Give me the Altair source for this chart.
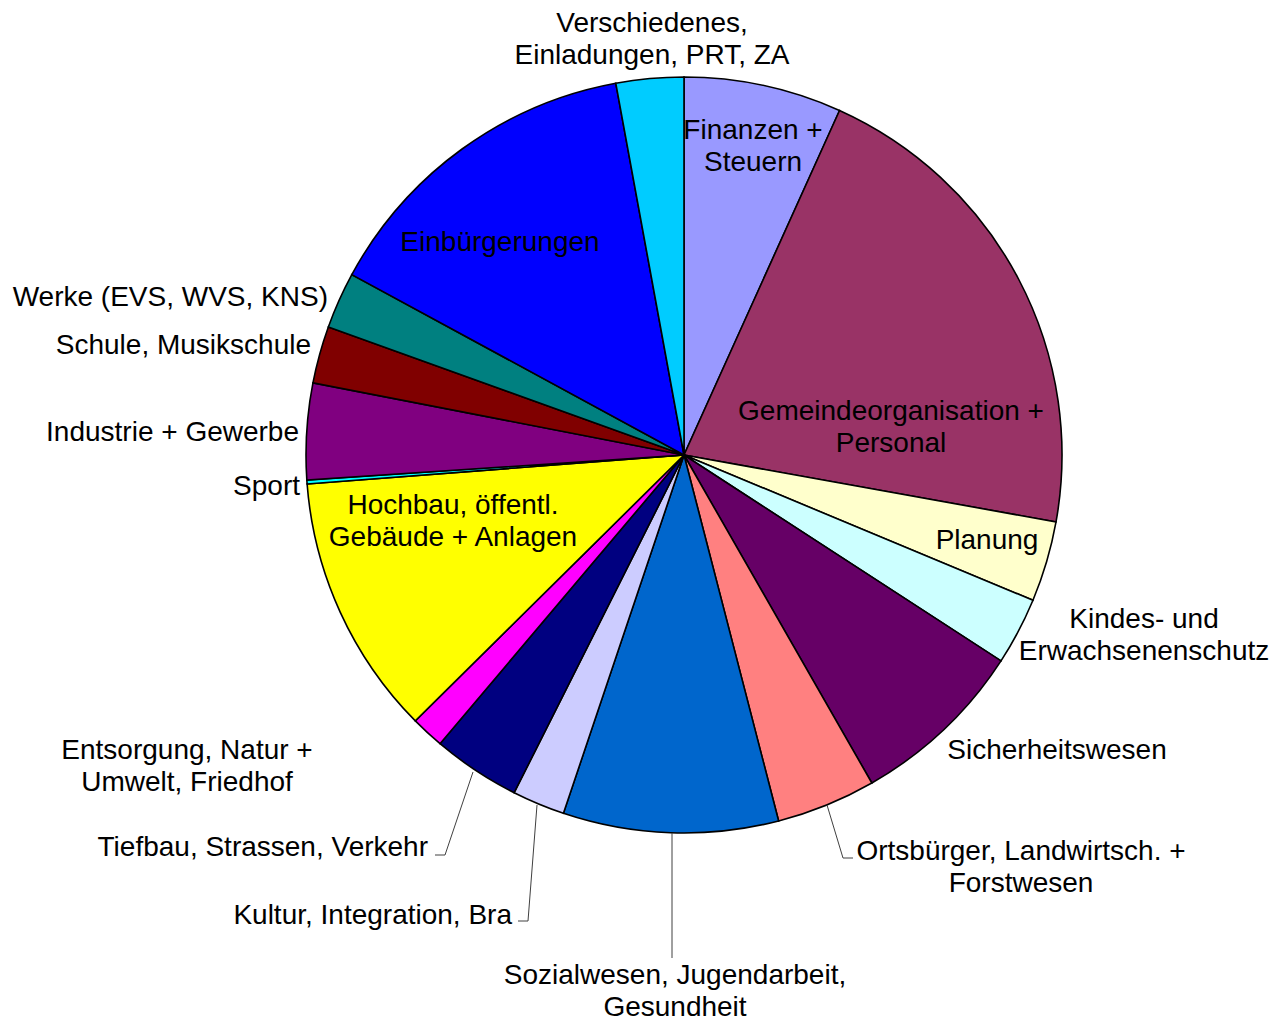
import altair as alt
import pandas as pd

# ---- data (slice sizes, in degrees of the full circle) ----
categories = [
    "Finanzen + Steuern", "Gemeindeorganisation + Personal", "Planung",
    "Kindes- und Erwachsenenschutz", "Sicherheitswesen",
    "Ortsbürger, Landwirtsch. + Forstwesen",
    "Sozialwesen, Jugendarbeit, Gesundheit", "Kultur, Integration, Bra",
    "Tiefbau, Strassen, Verkehr", "Entsorgung, Natur + Umwelt, Friedhof",
    "Hochbau, öffentl. Gebäude + Anlagen", "Sport", "Industrie + Gewerbe",
    "Schule, Musikschule", "Werke (EVS, WVS, KNS)", "Einbürgerungen",
    "Verschiedenes, Einladungen, PRT, ZA",
]
values = [24.3, 75.9, 12.4, 10.4, 27.2, 15.3, 33.1, 8.1, 13.5, 5.1,
          40.3, 0.6, 14.8, 8.8, 8.7, 51.1, 10.4]
colors = ["#9999FF", "#993366", "#FFFFCC", "#CCFFFF", "#660066", "#FF8080",
          "#0066CC", "#CCCCFF", "#000080", "#FF00FF", "#FFFF00", "#00FFFF",
          "#800080", "#800000", "#008080", "#0000FF", "#00CCFF"]

# label texts as shown (with line breaks)
label_text = [
    "Finanzen +\nSteuern", "Gemeindeorganisation +\nPersonal", "Planung",
    "Kindes- und\nErwachsenenschutz", "Sicherheitswesen",
    "Ortsbürger, Landwirtsch. +\nForstwesen",
    "Sozialwesen, Jugendarbeit,\nGesundheit", "Kultur, Integration, Bra",
    "Tiefbau, Strassen, Verkehr", "Entsorgung, Natur +\nUmwelt, Friedhof",
    "Hochbau, öffentl.\nGebäude + Anlagen", "Sport", "Industrie + Gewerbe",
    "Schule, Musikschule", "Werke (EVS, WVS, KNS)", "Einbürgerungen",
    "Verschiedenes,\nEinladungen, PRT, ZA",
]
# label block-centre offsets from the pie centre (layout)
label_dx = [69, 207, 303, 460, 373, 337, -9, -172, -256, -497, -231, -384,
            -385, -373, -356, -184, -32]
label_dy = [-308, -27, 86, 181, 296, 413, 537, 461, 393, 312, 67, 32,
            -22, -109, -157, -212, -415]
label_align = ["center", "center", "center", "center", "center", "center",
               "center", "right", "right", "center", "center", "right",
               "right", "right", "right", "center", "center"]

# leader lines (offsets from pie centre, layout)
leader_seg = ["o", "o", "o", "s", "s", "k", "k", "k", "t", "t", "t"]
leader_dx = [143, 159, 169, -12, -12, -147, -156, -166, -211, -239, -249]
leader_dy = [350, 403, 403, 378, 503, 350, 466, 466, 317, 400, 400]

# ---- layout ----
W, H = 1263, 1017
CX, CY = 676, 447
R = 378
FONT = "Liberation Sans"
FS = 28
LH = 32

pie_df = pd.DataFrame({"cat": categories, "value": values,
                       "ord": list(range(len(values)))})
pie = alt.Chart(pie_df).mark_arc(
    outerRadius=R, stroke="black", strokeWidth=1.6
).encode(
    theta=alt.Theta("value:Q", stack=True),
    color=alt.Color("cat:N", scale=alt.Scale(domain=categories, range=colors),
                    legend=None),
    order=alt.Order("ord:Q"),
    x=alt.value(CX), y=alt.value(CY),
)

# first line sits half a line above the block centre per extra line
n_lines = [t.count("\n") + 1 for t in label_text]
lab_df = pd.DataFrame({
    "txt": label_text,
    "px": [CX + d for d in label_dx],
    "py": [CY + d - (n - 1) * LH / 2 for d, n in zip(label_dy, n_lines)],
    "al": label_align,
})

def text_layer(al):
    return alt.Chart(lab_df).transform_filter(
        alt.datum.al == al
    ).mark_text(
        align=al, baseline="middle", font=FONT, fontSize=FS,
        lineBreak="\n", lineHeight=LH, color="black"
    ).encode(
        x=alt.X("px:Q", scale=None, axis=None),
        y=alt.Y("py:Q", scale=None, axis=None),
        text="txt:N",
    )

lead_df = pd.DataFrame({
    "seg": leader_seg,
    "k": list(range(len(leader_seg))),
    "px": [CX + d for d in leader_dx],
    "py": [CY + d for d in leader_dy],
})
leaders = alt.Chart(lead_df).mark_line(color="#404040", strokeWidth=1).encode(
    x=alt.X("px:Q", scale=None, axis=None),
    y=alt.Y("py:Q", scale=None, axis=None),
    detail="seg:N",
    order="k:Q",
)

chart = alt.layer(pie, leaders, text_layer("center"), text_layer("right")).properties(
    width=W, height=H,
    autosize=alt.AutoSizeParams(type="none"),
    padding=0,
    background="white",
).configure_view(stroke=None)

chart.save("out.html", embed_options={"renderer": "svg", "actions": False})
